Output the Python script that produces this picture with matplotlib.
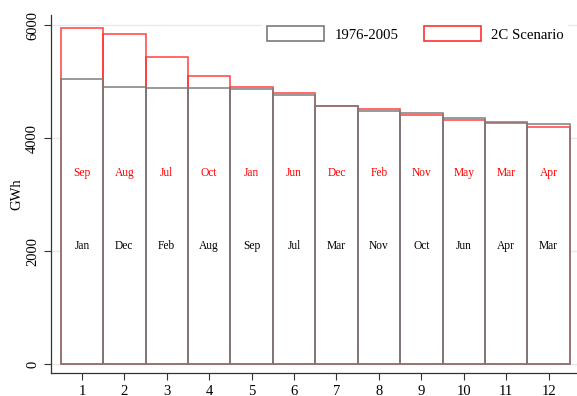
import numpy as np
import matplotlib.pyplot as plt
from matplotlib.patches import Patch

plt.rcParams['font.family'] = ['Liberation Serif', 'DejaVu Serif']

# Ranked monthly generation (GWh)
rank = np.arange(1, 13)
hist_vals = [5050, 4905, 4885, 4885, 4862, 4756, 4566, 4472, 4448, 4360, 4283, 4248]
scen_vals = [5953, 5846, 5434, 5103, 4903, 4802, 4575, 4507, 4407, 4319, 4265, 4200]
hist_months = ['Jan', 'Dec', 'Feb', 'Aug', 'Sep', 'Jul', 'Mar', 'Nov', 'Oct', 'Jun', 'Apr', 'Mar']
scen_months = ['Sep', 'Aug', 'Jul', 'Oct', 'Jan', 'Jun', 'Dec', 'Feb', 'Nov', 'May', 'Mar', 'Apr']
hist_label_y = 2080
scen_label_y = 3380

gray = '#7a7a7a'
red = '#ff3030'

fig = plt.figure(figsize=(5.77, 3.96), dpi=100)
ax = fig.add_axes([51 / 577, 23 / 396, 1 - 51 / 577, 358 / 396])

# white fill under both outlines so gridlines are hidden
top = np.maximum(hist_vals, scen_vals)
ax.bar(rank, top, width=1.0, color='white', edgecolor='none', zorder=2)
ax.bar(rank, scen_vals, width=1.0, facecolor='none', edgecolor=red, linewidth=1.2, zorder=3, alpha=0.85)
ax.bar(rank, hist_vals, width=1.0, facecolor='none', edgecolor=gray, linewidth=1.2, zorder=3, alpha=0.9)

for x, m in zip(rank, scen_months):
    ax.text(x, scen_label_y, m, color='red', ha='center', va='center', fontsize=8.3, zorder=4)
for x, m in zip(rank, hist_months):
    ax.text(x, hist_label_y, m, color='black', ha='center', va='center', fontsize=8.3, zorder=4)

ax.set_xlim(0.27, 12.67)
ax.set_ylim(-159, 6177)
ax.set_xticks(rank)
ax.set_yticks([0, 2000, 4000, 6000])
ax.set_yticklabels(['0', '2000', '4000', '6000'], rotation=90, va='center')
ax.tick_params(labelsize=10.5, length=5, width=0.8, color='#333333')
ax.yaxis.grid(True, color='#e3ecef', linewidth=1.0, zorder=0)
ax.set_axisbelow(True)
for s in ['top', 'right']:
    ax.spines[s].set_visible(False)
for s in ['left', 'bottom']:
    ax.spines[s].set_color('#333333')
    ax.spines[s].set_linewidth(0.9)
ax.set_ylabel('GWh', fontsize=10.5, labelpad=2)

handles = [Patch(facecolor='white', edgecolor=gray, linewidth=1.2, label='1976-2005'),
           Patch(facecolor='white', edgecolor=red, linewidth=1.2, label='2C Scenario')]
leg = ax.legend(handles=handles, ncol=2, loc='center left',
                bbox_to_anchor=(255 / 577, 1 - 34 / 396), bbox_transform=fig.transFigure,
                fontsize=10.6, handlelength=3.9, handleheight=1.1, handletextpad=0.7,
                columnspacing=1.7, borderpad=0.3, frameon=True, fancybox=False)
leg.get_frame().set_edgecolor('none')
leg.get_frame().set_facecolor('white')
leg.get_frame().set_alpha(1)
leg.set_zorder(5)

fig.savefig('out.png', dpi=100)
